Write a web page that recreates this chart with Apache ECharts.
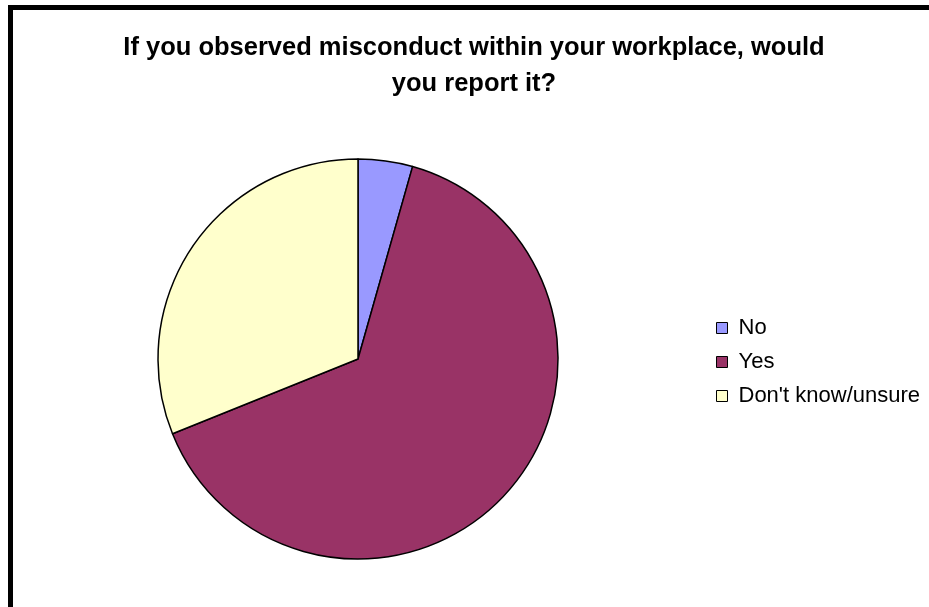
<!DOCTYPE html>
<html>
<head>
<meta charset="utf-8">
<script src="https://cdn.jsdelivr.net/npm/echarts@6/dist/echarts.min.js"></script>
<style>
  html, body { margin: 0; padding: 0; background: #fff; }
  #chart { width: 929px; height: 607px; }
</style>
</head>
<body>
<div id="chart"></div>
<script>
// Survey answers (percent of respondents)
const categories = ['No', 'Yes', "Don't know/unsure"];
const shares = [4.4, 64.5, 31.1];
const sliceColors = ['#9999FF', '#993366', '#FFFFCC'];
const titleText = 'If you observed misconduct within your workplace, would\nyou report it?';

const chart = echarts.init(document.getElementById('chart'), null, { renderer: 'canvas' });

chart.setOption({
  animation: false,
  backgroundColor: '#ffffff',
  title: {
    text: titleText,
    left: 474,
    textAlign: 'center',
    top: 30,
    padding: 0,
    textStyle: {
      fontFamily: 'Liberation Sans, Arial, sans-serif',
      fontSize: 25.5,
      fontWeight: 'bold',
      color: '#000',
      lineHeight: 36
    }
  },
  legend: {
    orient: 'vertical',
    left: 716,
    top: 317,
    padding: 0,
    itemWidth: 11,
    itemHeight: 11,
    itemGap: 12,
    icon: 'rect',
    data: categories,
    textStyle: {
      fontFamily: 'Liberation Sans, Arial, sans-serif',
      fontSize: 22,
      lineHeight: 22,
      color: '#000',
      padding: [0, 0, 0, 6]
    },
    itemStyle: { borderColor: '#000', borderWidth: 1 }
  },
  graphic: [{
    type: 'rect',
    shape: { x: 10.5, y: 7.5, width: 1000, height: 1000 },
    style: { fill: 'none', stroke: '#000', lineWidth: 5 },
    silent: true,
    z: 10
  }],
  series: [{
    type: 'pie',
    center: [358, 359],
    radius: 200,
    startAngle: 90,
    clockwise: true,
    label: { show: false },
    labelLine: { show: false },
    emphasis: { disabled: true },
    itemStyle: { borderColor: '#000', borderWidth: 1.5 },
    data: categories.map((name, i) => ({
      name: name,
      value: shares[i],
      itemStyle: { color: sliceColors[i] }
    }))
  }]
});
</script>
</body>
</html>
